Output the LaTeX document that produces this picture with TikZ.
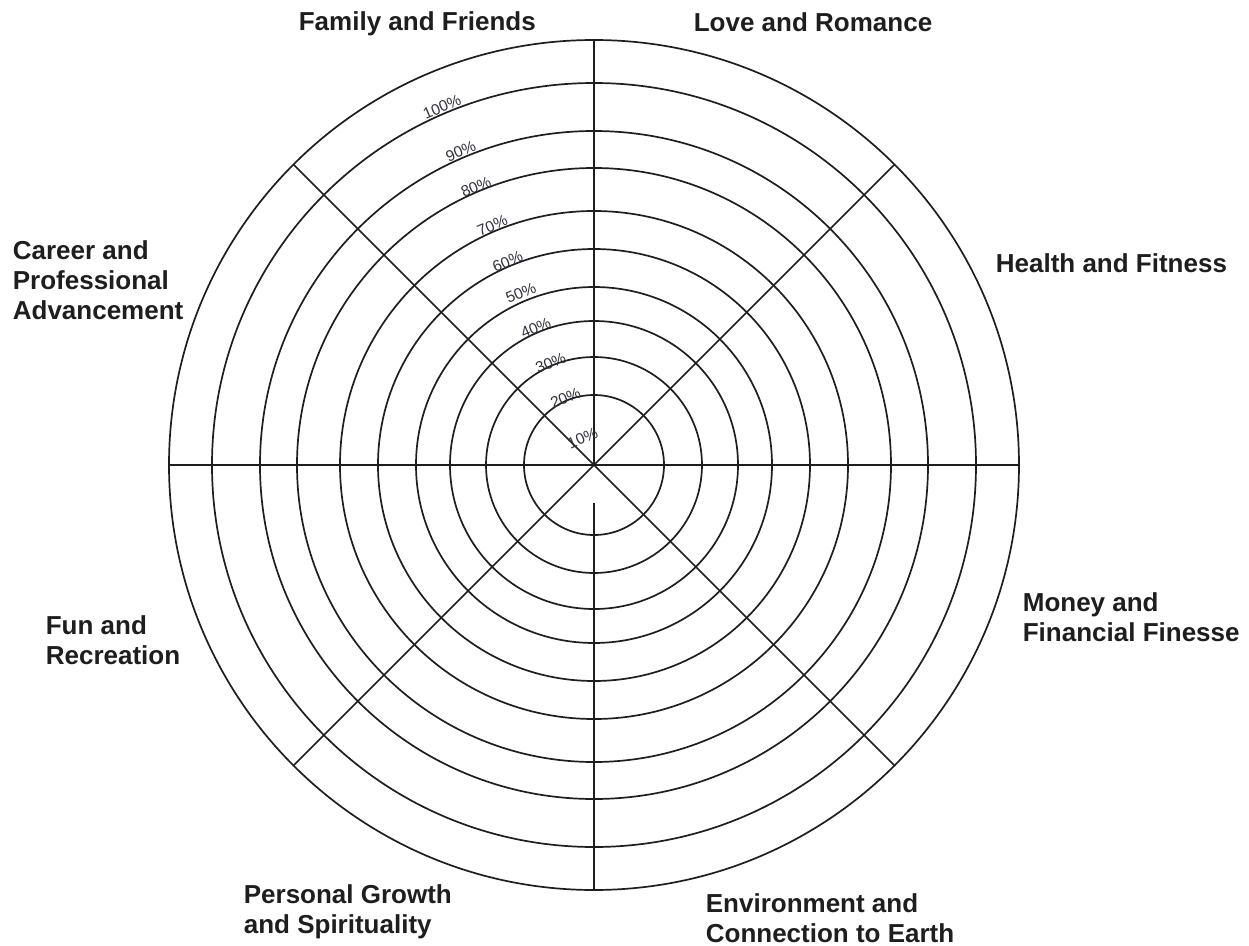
\documentclass[tikz,border=0pt]{standalone}
\usepackage{fontspec}
\setmainfont{Liberation Sans}
\usetikzlibrary{calc}

\definecolor{ink}{RGB}{30,30,30}
\definecolor{pctgray}{RGB}{50,50,62}

\begin{document}
\begin{tikzpicture}[x=1pt, y=1pt, line width=1.7pt, ink]
  \tikzset{
    area/.style={anchor=base west, inner sep=0pt, align=left,
      font=\fontsize{26}{30}\selectfont\bfseries, text=ink},
    pct/.style={font=\fontsize{15.5}{15.5}\selectfont, text=pctgray,
      inner sep=0pt, rotate=23}
  }
  \useasboundingbox (-594,-480) rectangle (655,465);
  \coordinate (O) at (0,0);
  % rings, innermost first
  \foreach \r in {70,108,144,178,216,254,297,334,382,425}
    \draw (O) circle (\r);
  % spokes
  \draw (180:425) -- (0:425);
  \draw (90:425) -- (O);
  \draw (270:38) -- (270:425);
  \draw (135:425) -- (-45:425);
  \draw (45:425) -- (-135:425);
  % percentage scale along 113 degrees
  \foreach \p/\r in {10/29,20/73,30/111,40/149,50/187,60/221,70/260,80/302,90/341,100/389}
    \node[pct] (p\p) at (113:\r) {\p\%};
  % life areas (base = last line)
  \node[area] (family) at (-296,434) {Family and Friends};
  \node[area] (love) at (99,433) {Love and Romance};
  \node[area] (health) at (401,192) {Health and Fitness};
  \node[area] (career) at (-582,146) {Career and\\Professional\\Advancement};
  \node[area] (money) at (428,-176) {Money and\\Financial Finesse};
  \node[area] (fun) at (-549,-199) {Fun and\\Recreation};
  \node[area] (growth) at (-351,-468) {Personal Growth\\and Spirituality};
  \node[area] (earth) at (111,-477) {Environment and\\Connection to Earth};
\end{tikzpicture}
\end{document}
